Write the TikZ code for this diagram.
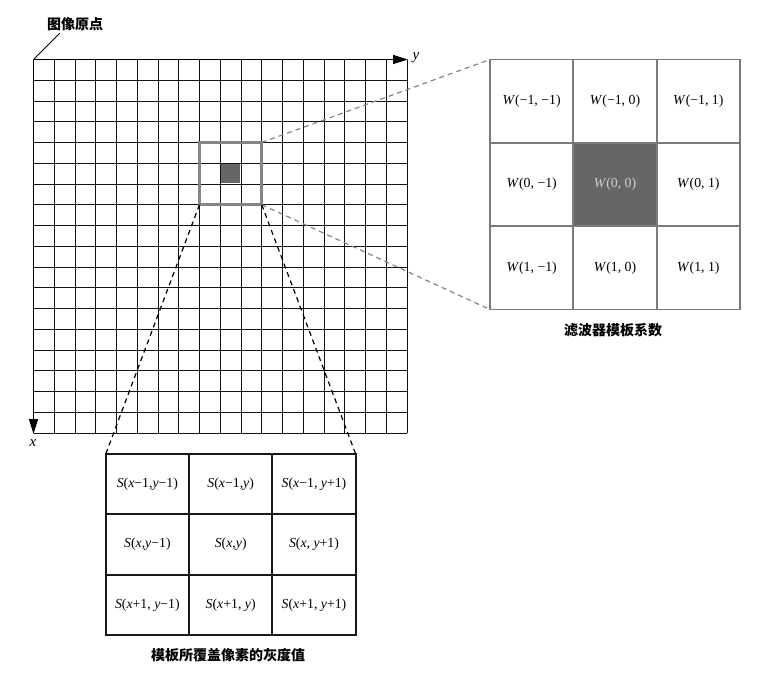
\documentclass[tikz,border=0pt]{standalone}
\usepackage{fontspec}
\setmainfont{Liberation Serif}
\newfontfamily\cjk{Noto Sans CJK SC}
\usetikzlibrary{arrows.meta}
\definecolor{darkfill}{HTML}{666666}
\definecolor{hlgray}{HTML}{858585}
\definecolor{wline}{HTML}{7A7A7A}
\definecolor{gridline}{HTML}{111111}
\tikzset{
  gridstyle/.style={draw=gridline, line width=1pt},
  axisarrow/.style={draw=black, line width=1.3pt, -{Triangle[length=15pt,width=9pt]}},
  wcell/.style={draw=wline, line width=1.7pt, minimum width=83.33pt, minimum height=83.33pt, inner sep=0pt, outer sep=0pt, font=\fontsize{13.8}{16}\selectfont},
  scell/.style={draw=black!90, line width=1.7pt, minimum width=83.33pt, minimum height=60.33pt, inner sep=0pt, outer sep=0pt, font=\fontsize{13.8}{16}\selectfont},
  caption/.style={font=\cjk\bfseries\fontsize{14}{16}\selectfont, inner sep=0pt},
  graydash/.style={draw=hlgray, line width=1.2pt, dash pattern=on 5pt off 4pt},
  blackdash/.style={draw=black, line width=1.2pt, dash pattern=on 5pt off 4pt},
  axislabel/.style={font=\itshape\fontsize{15}{17}\selectfont, inner sep=0pt}
}
\begin{document}
\begin{tikzpicture}[x=1pt,y=-1pt]
\useasboundingbox (0,0) rectangle (767,672);
% grid 18x18
\foreach \i in {0,...,18} {
  \draw[gridstyle] ({33.5+20.75*\i},59.5) -- ({33.5+20.75*\i},433);
  \draw[gridstyle] (33.5,{59.5+20.75*\i}) -- (407,{59.5+20.75*\i});
}
\coordinate (O) at (33.5,59.5);
\coordinate (Yend) at (408,59.5);
\coordinate (Xend) at (33.5,434);
\draw[axisarrow] (O) -- (Yend);
\draw[axisarrow] (O) -- (Xend);
\node[axislabel] (ylab) at (416,58) {y};
\node[axislabel] (xlab) at (33,443) {x};
% origin label
\node[caption] (origin) at (75,24) {图像原点};
\coordinate (leader) at (60,33);
\draw[black, line width=1pt] (O) -- (leader);
% highlight block
\node[draw=hlgray, line width=3pt, minimum size=62.25pt, inner sep=0pt, outer sep=0pt] (hl) at (230.6,173.6) {};
\node[fill=darkfill, minimum size=19pt, inner sep=0pt] (hc) at (230.6,173.6) {};
% W matrix
\node[wcell] (w11) at (531.67,101.17) {\textit{W}(−1, −1)};
\node[wcell] (w12) at (615,101.17) {\textit{W}(−1, 0)};
\node[wcell] (w13) at (698.33,101.17) {\textit{W}(−1, 1)};
\node[wcell] (w21) at (531.67,184.5) {\textit{W}(0, −1)};
\node[wcell, fill=darkfill, text=black!18] (w22) at (615,184.5) {\textit{W}(0, 0)};
\node[wcell] (w23) at (698.33,184.5) {\textit{W}(0, 1)};
\node[wcell] (w31) at (531.67,267.83) {\textit{W}(1, −1)};
\node[wcell] (w32) at (615,267.83) {\textit{W}(1, 0)};
\node[wcell] (w33) at (698.33,267.83) {\textit{W}(1, 1)};
\node[caption] (wcap) at (613,330) {滤波器模板系数};
% S matrix
\node[scell] (s11) at (147.4,484.2) {\textit{S}(\textit{x}−1,\textit{y}−1)};
\node[scell] (s12) at (230.7,484.2) {\textit{S}(\textit{x}−1,\textit{y})};
\node[scell] (s13) at (314,484.2) {\textit{S}(\textit{x}−1, \textit{y}+1)};
\node[scell] (s21) at (147.4,544.5) {\textit{S}(\textit{x},\textit{y}−1)};
\node[scell] (s22) at (230.7,544.5) {\textit{S}(\textit{x},\textit{y})};
\node[scell] (s23) at (314,544.5) {\textit{S}(\textit{x}, \textit{y}+1)};
\node[scell] (s31) at (147.4,604.8) {\textit{S}(\textit{x}+1, \textit{y}−1)};
\node[scell] (s32) at (230.7,604.8) {\textit{S}(\textit{x}+1, \textit{y})};
\node[scell] (s33) at (314,604.8) {\textit{S}(\textit{x}+1, \textit{y}+1)};
\node[caption] (scap) at (228,655) {模板所覆盖像素的灰度值};
% connectors
\draw[graydash] (hl.north east) -- (w11.north west);
\draw[graydash] (hl.south east) -- (w31.south west);
\draw[blackdash] (hl.south west) -- (s11.north west);
\draw[blackdash] (hl.south east) -- (s13.north east);
\end{tikzpicture}
\end{document}
